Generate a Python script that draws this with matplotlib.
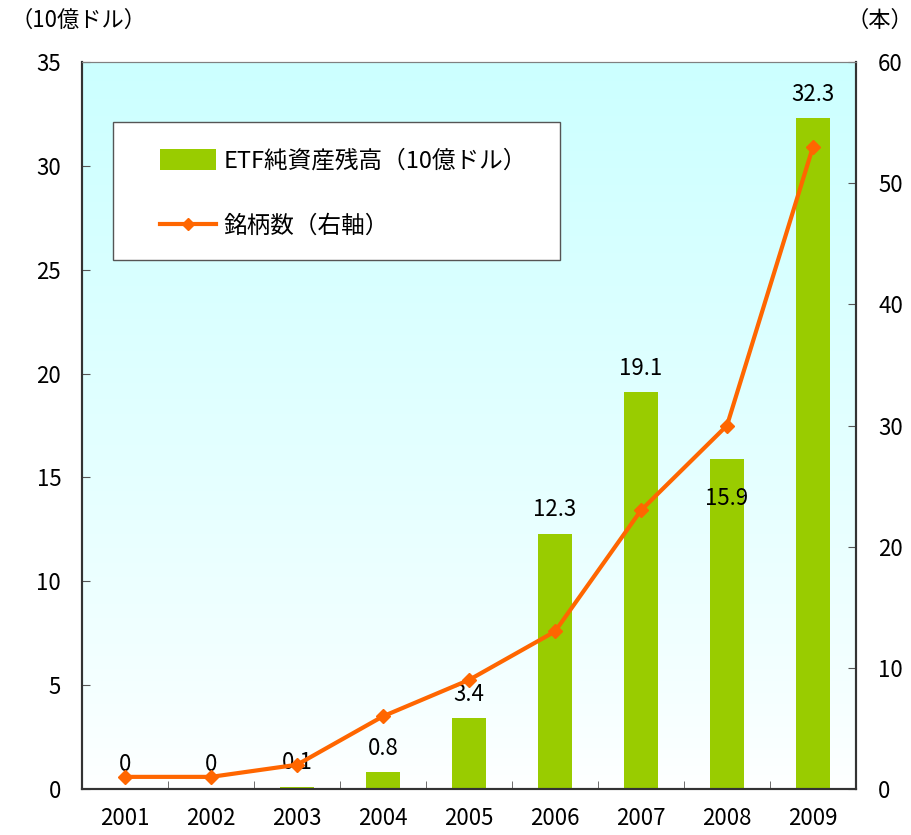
import numpy as np
import matplotlib
matplotlib.use("Agg")
import matplotlib.pyplot as plt
from matplotlib.patches import Rectangle, Patch
from matplotlib.lines import Line2D

plt.rcParams['font.family'] = ['Noto Sans CJK JP', 'DejaVu Sans']

years = ["2001", "2002", "2003", "2004", "2005", "2006", "2007", "2008", "2009"]
assets = [0, 0, 0.1, 0.8, 3.4, 12.3, 19.1, 15.9, 32.3]
asset_labels = ["0", "0", "0.1", "0.8", "3.4", "12.3", "19.1", "15.9", "32.3"]
funds = [1, 1, 2, 6, 9, 13, 23, 30, 53]

green = "#99CC00"
orange = "#FF6600"

fig = plt.figure(figsize=(9.11, 8.35), dpi=100)
ax = fig.add_axes([0.090, 0.0551, 0.8496, 0.8706])
x = np.arange(len(years))

# gradient background
grad = np.linspace(0, 1, 256).reshape(-1, 1) ** 0.8
top = np.array([0.80, 1.0, 1.0])
bot = np.array([1.0, 1.0, 1.0])
img = bot + (top - bot) * grad
ax.imshow(img[:, None, :].repeat(2, axis=1), extent=(0, 1, 0, 1), origin="lower",
          transform=ax.transAxes, aspect="auto", zorder=0)

ax.bar(x, assets, width=0.4, color=green, zorder=2)
for i, (v, s) in enumerate(zip(assets, asset_labels)):
    off = -37 if years[i] == "2008" else 9
    ax.annotate(s, (i, v), xytext=(0, off), textcoords="offset points",
                ha="center", va="bottom", fontsize=16, zorder=5)

ax.set_xlim(-0.5, len(years) - 0.5)
ax.set_ylim(0, 35)
ax.set_yticks(range(0, 36, 5))
ax.set_xticks(x)
ax.set_xticklabels(years)
ax.set_xticks(x[:-1] + 0.5, minor=True)
ax.tick_params(axis="x", which="major", length=0, pad=13, labelsize=16)
ax.tick_params(axis="x", which="minor", direction="in", length=6, color="#555555")
ax.tick_params(axis="y", direction="in", length=6, pad=15, labelsize=16, color="#555555")

ax2 = ax.twinx()
ax2.plot(x, funds, color=orange, lw=3, marker="D", ms=7, zorder=4)
ax2.set_ylim(0, 60)
ax2.set_yticks(range(0, 61, 10))
ax2.tick_params(axis="y", direction="in", length=6, pad=16, labelsize=16, color="#555555")

for a in (ax, ax2):
    a.spines["top"].set_color("#808080")
    a.spines["left"].set_color("#333333")
    a.spines["right"].set_color("#333333")
    a.spines["bottom"].set_color("#333333")
    a.spines["left"].set_linewidth(1.5)
    a.spines["bottom"].set_linewidth(1.5)
    a.spines["right"].set_linewidth(1.5)

# legend box
ax2.add_patch(Rectangle((0.040, 0.728), 0.578, 0.189, transform=ax2.transAxes,
                        facecolor="white", edgecolor="#555555", lw=1, zorder=6))
handles = [Patch(facecolor=green, edgecolor="none"),
           Line2D([0], [0], color=orange, lw=3, marker="D", ms=6)]
leg = ax2.legend(handles, ["ETF純資産残高（10億ドル）", "銘柄数（右軸）"],
                 loc="upper left", bbox_to_anchor=(0.088, 0.893), frameon=False,
                 fontsize=17, handlelength=2.4, handleheight=1.0, handletextpad=0.3,
                 labelspacing=1.75, borderaxespad=0)
leg.set_zorder(7)

fig.text(10 / 911, 1 - 20 / 835, "（10億ドル）", fontsize=16, va="center", ha="left")
fig.text(846 / 911, 1 - 20 / 835, "（本）", fontsize=16, va="center", ha="left")

fig.savefig("out.png", dpi=100)
